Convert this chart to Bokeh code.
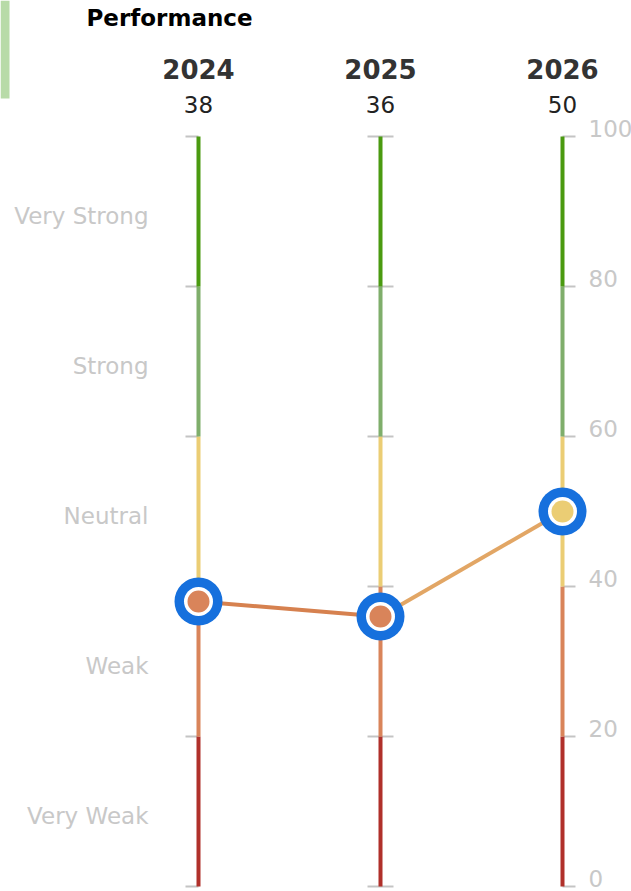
from bokeh.plotting import figure
from bokeh.models import Range1d
from bokeh.core.properties import value
from bokeh.embed import file_html
from bokeh.resources import INLINE

# ---- data ----
years = ["2024", "2025", "2026"]
scores = [38, 36, 50]
band_edges = [0, 20, 40, 60, 80, 100]
band_labels = ["Very Weak", "Weak", "Neutral", "Strong", "Very Strong"]
band_colors = ["#b0302a", "#d9845a", "#ebcd74", "#7fae6b", "#4a9a10"]
axis_ticks = [0, 20, 40, 60, 80, 100]
title_text = "Performance"

# ---- layout helpers (picture pixels -> data) ----
W, H = 631, 891
PXX = 182.0          # px per year step
X0_PAGE = 198.0      # picture x of first year
PXY = 7.5            # px per score unit
Y0_PAGE = 886.0      # picture y of score 0

x_min = -X0_PAGE / PXX
x_max = x_min + W / PXX
y_min = -(H - Y0_PAGE) / PXY
y_max = y_min + H / PXY

def dx(px):
    return (px - X0_PAGE) / PXX

def dy(py):
    return y_max - py / PXY

FONT = value("DejaVu Sans")

p = figure(width=W, height=H, output_backend="svg", toolbar_location=None,
           x_range=Range1d(x_min, x_max), y_range=Range1d(y_min, y_max),
           min_border=0)
p.axis.visible = False
p.grid.visible = False
p.outline_line_color = None
p.background_fill_color = "white"
p.border_fill_color = "white"

n = len(years)
xs = list(range(n))

# green strip at the left edge
p.quad(left=[dx(0)], right=[dx(9)], top=[dy(0)], bottom=[dy(98)],
       fill_color="#b8dba8", line_color=None)

# tick marks
tick_len = 13 / PXX
for i in xs:
    if i == 0:
        a, b = i - tick_len, i
    elif i == n - 1:
        a, b = i, i + tick_len
    else:
        a, b = i - tick_len, i + tick_len
    p.segment(x0=[a] * len(axis_ticks), x1=[b] * len(axis_ticks),
              y0=axis_ticks, y1=axis_ticks, line_color="#c4c4c4", line_width=2)

# coloured band lines
for i in xs:
    p.segment(x0=[i] * 5, x1=[i] * 5, y0=band_edges[:-1], y1=band_edges[1:],
              line_color=band_colors, line_width=4)

# band labels (left)
mids = [(band_edges[k] + band_edges[k + 1]) / 2 for k in range(5)]
p.text(x=[dx(148)] * 5, y=mids, text=band_labels, text_align="right",
       text_baseline="middle", text_color="#c8c8c8", text_font=FONT,
       text_font_size="23px", y_offset=4)

# right axis labels
p.text(x=[n - 1 + dx(588) - dx(562)] * len(axis_ticks), y=axis_ticks,
       text=[str(t) for t in axis_ticks], text_align="left",
       text_baseline="middle", text_color="#c8c8c8", text_font=FONT,
       text_font_size="23px", y_offset=-8)

# headers
p.text(x=xs, y=[dy(68)] * n, text=years, text_align="center",
       text_baseline="middle", text_color="#333333", text_font=FONT,
       text_font_size="26px", text_font_style="bold")
p.text(x=xs, y=[dy(104)] * n, text=[str(s) for s in scores], text_align="center",
       text_baseline="middle", text_color="#222222", text_font=FONT,
       text_font_size="23px")

# title
p.text(x=[dx(86)], y=[dy(17)], text=[title_text], text_align="left",
       text_baseline="middle", text_color="#000000", text_font=FONT,
       text_font_size="23px", text_font_style="bold")

# connecting line
def band_color(v):
    for k in range(5):
        if v < band_edges[k + 1] or k == 4:
            return band_colors[k]

seg_colors = ["#d6814f", "#e2a665"]
p.segment(x0=xs[:-1], x1=xs[1:], y0=scores[:-1], y1=scores[1:],
          line_color=seg_colors, line_width=4)

# markers
p.scatter(x=xs, y=scores, size=48, marker="circle", fill_color="#1670dd",
          line_color=None)
p.scatter(x=xs, y=scores, size=29, marker="circle", fill_color="white",
          line_color=None)
p.scatter(x=xs, y=scores, size=22, marker="circle",
          fill_color=[band_color(s) for s in scores], line_color=None)

open("out.html", "w").write(file_html(p, INLINE))
